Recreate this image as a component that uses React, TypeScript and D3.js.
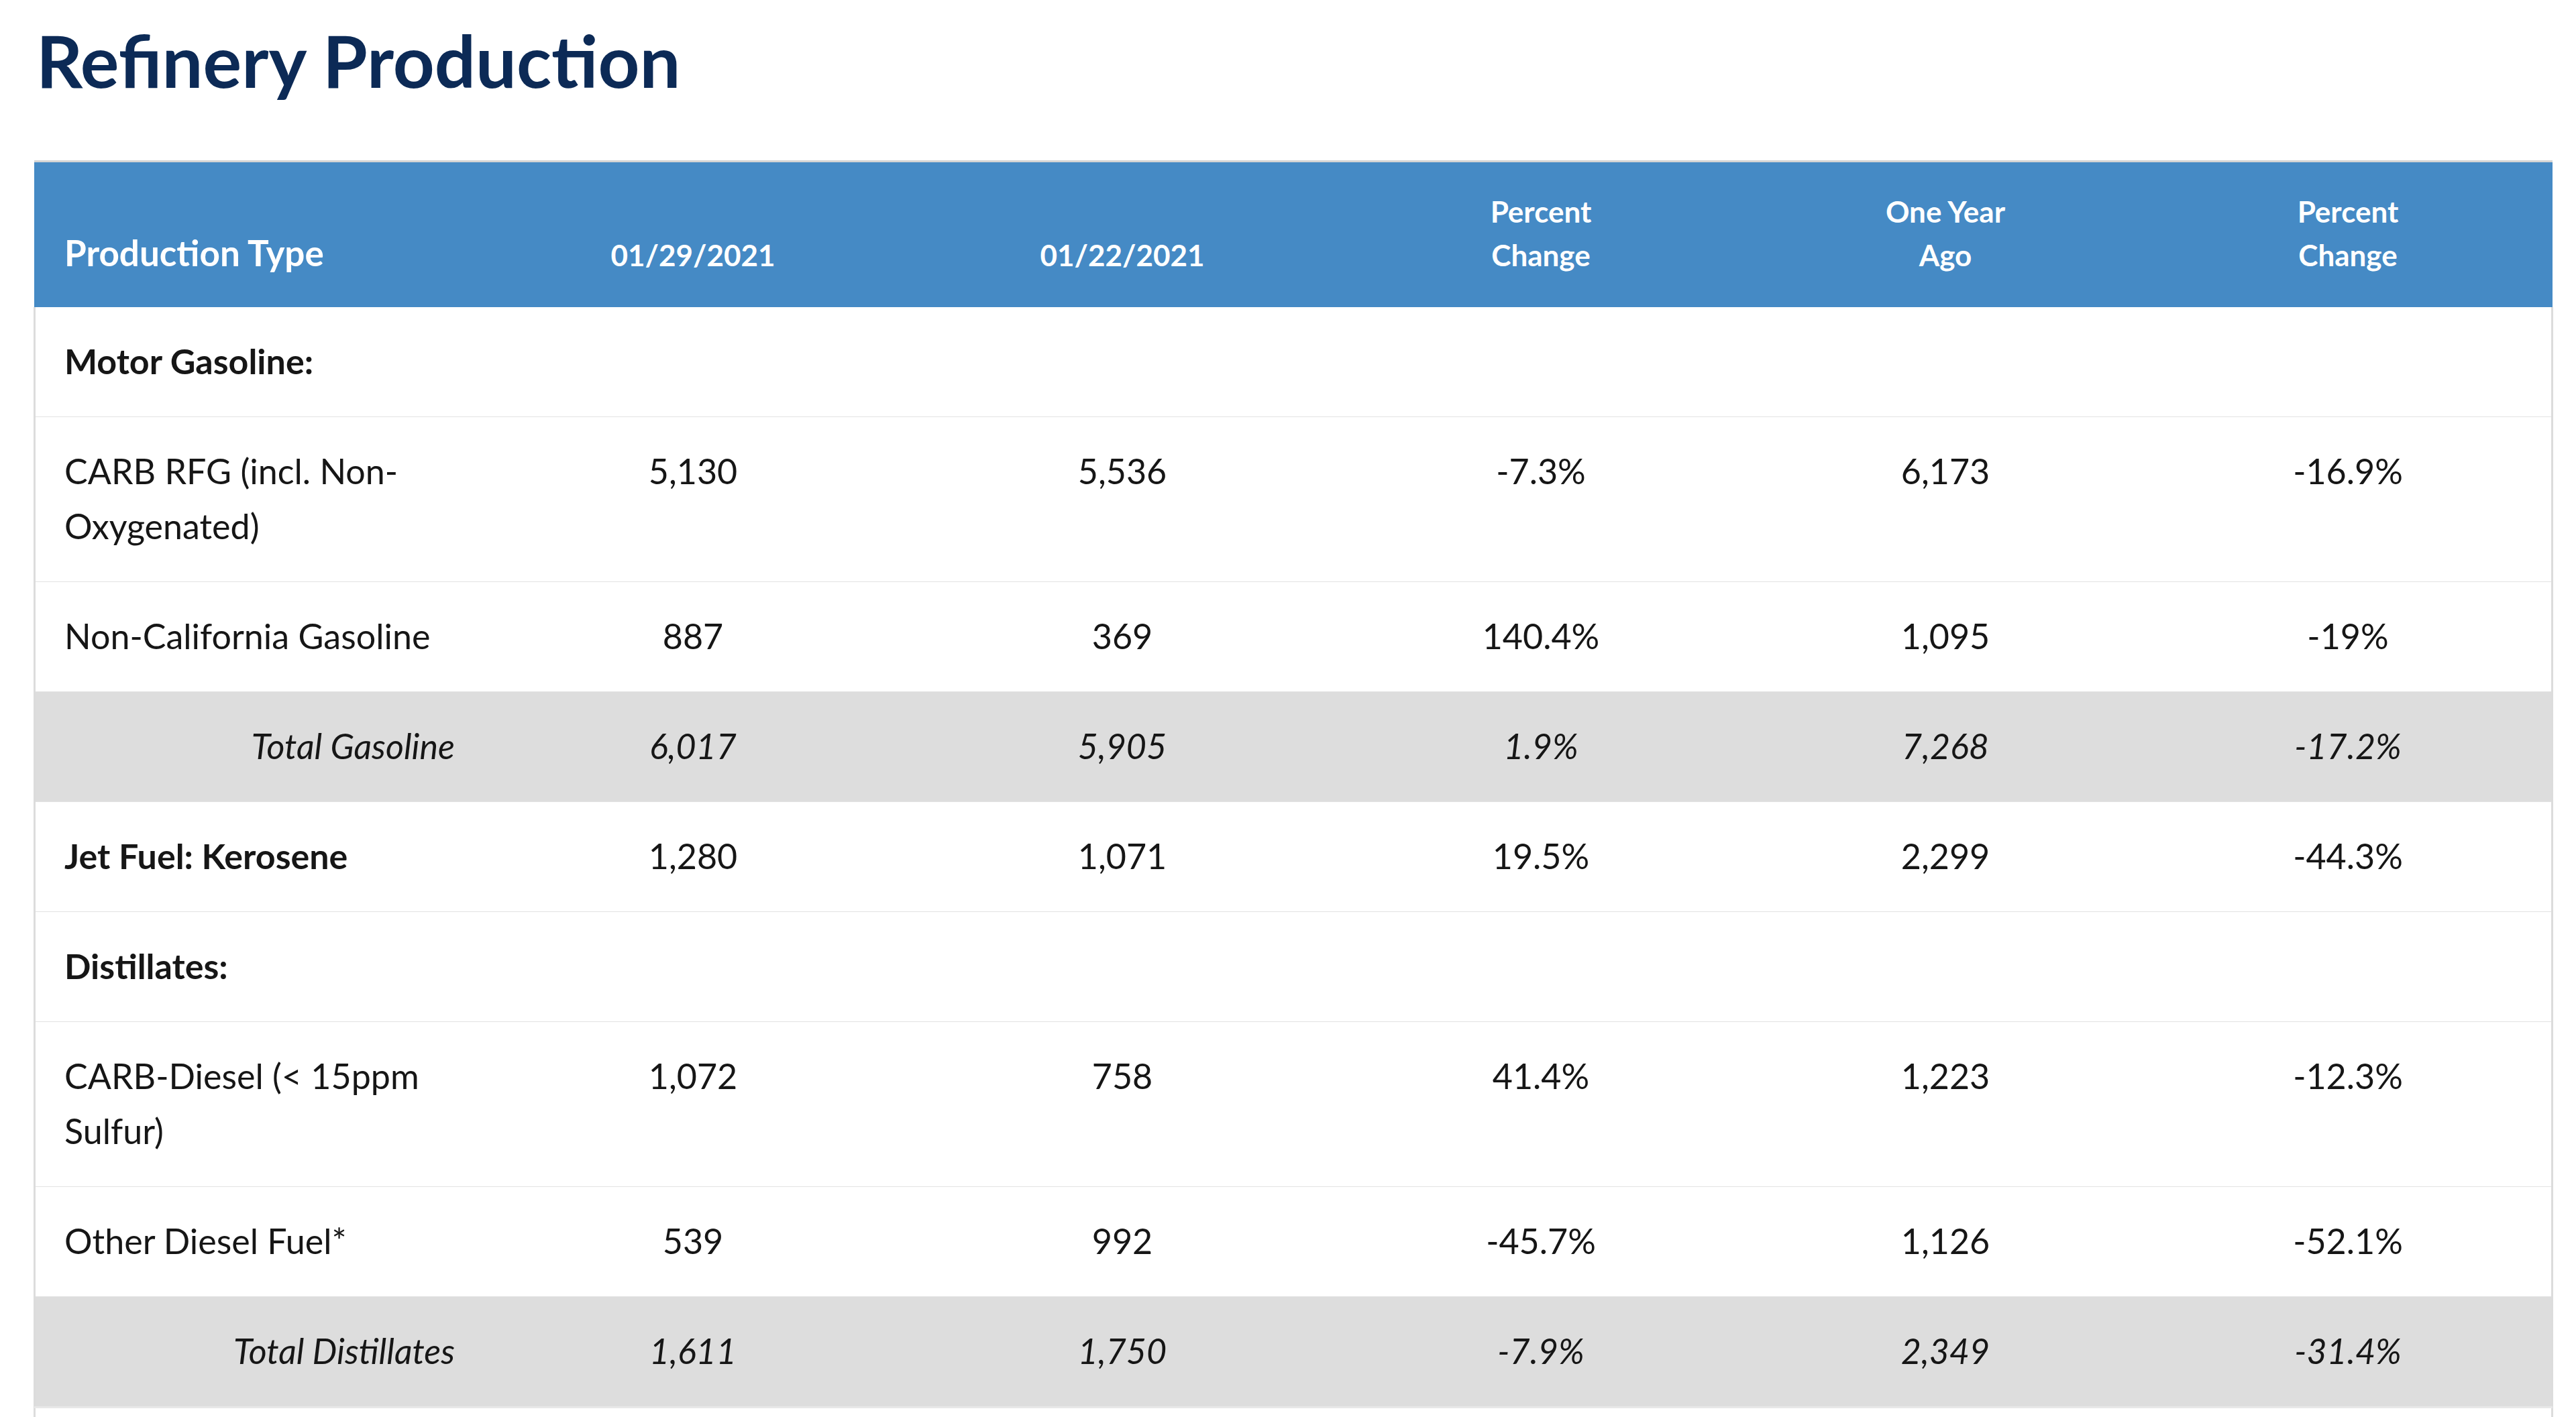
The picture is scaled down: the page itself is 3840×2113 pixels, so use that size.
import React from "react";
import * as d3 from "d3";

const title = "Refinery Production";
const headerLines = [["Production Type"], ["01/29/2021"], ["01/22/2021"], ["Percent", "Change"], ["One Year", "Ago"], ["Percent", "Change"]];
const columnKeys = ["label", "current", "previous", "pctWeek", "yearAgo", "pctYear"];

const rowLabels = [
  ["Motor Gasoline:"],
  ["CARB RFG (incl. Non-", "Oxygenated)"],
  ["Non-California Gasoline"],
  ["Total Gasoline"],
  ["Jet Fuel: Kerosene"],
  ["Distillates:"],
  ["CARB-Diesel (< 15ppm", "Sulfur)"],
  ["Other Diesel Fuel*"],
  ["Total Distillates"],
];
const rowKinds = ["section", "item", "item", "total", "boldItem", "section", "item", "item", "total"];
const current = [null, 5130, 887, 6017, 1280, null, 1072, 539, 1611];
const previous = [null, 5536, 369, 5905, 1071, null, 758, 992, 1750];
const pctWeek = [null, "-7.3%", "140.4%", "1.9%", "19.5%", null, "41.4%", "-45.7%", "-7.9%"];
const yearAgo = [null, 6173, 1095, 7268, 2299, null, 1223, 1126, 2349];
const pctYear = [null, "-16.9%", "-19%", "-17.2%", "-44.3%", null, "-12.3%", "-52.1%", "-31.4%"];

const W = 3840;
const H = 2113;
const FONT = "Lato, 'Open Sans', sans-serif";

export default function App() {
  const tableLeft = 51;
  const tableRight = 3805;
  const headerTop = 242;
  const headerBottom = 458;
  const lineH = 82;
  const fmt = d3.format(",");

  const xCol = d3.scaleOrdinal<string, number>().domain(columnKeys).range([96, 1033, 1673, 2297, 2900, 3500]);

  const heights = rowLabels.map((l) => lineH * (l.length + 1));
  const tops: number[] = [];
  let acc = headerBottom;
  heights.forEach((h) => {
    tops.push(acc);
    acc += h;
  });
  const tableBottomRows = acc;

  const cellValues = (i: number) => [
    current[i] == null ? "" : fmt(current[i] as number),
    previous[i] == null ? "" : fmt(previous[i] as number),
    pctWeek[i] ?? "",
    yearAgo[i] == null ? "" : fmt(yearAgo[i] as number),
    pctYear[i] ?? "",
  ];

  return (
    <svg width={W} height={H} style={{ position: "absolute", left: 0, top: 0, background: "#fff" }} fontFamily={FONT}>
      <rect x={0} y={0} width={W} height={H} fill="#ffffff" />
      <text x={54} y={131} fontSize={108} fontWeight={700} fill="#0c2a56">{title}</text>

      <rect x={tableLeft} y={headerTop - 3} width={tableRight - tableLeft} height={3} fill="#d4d4d4" />
      <rect x={tableLeft} y={headerTop} width={tableRight - tableLeft} height={headerBottom - headerTop} fill="#458ac5" />
      {headerLines.map((lines, ci) => {
        const key = columnKeys[ci];
        const isFirst = ci === 0;
        const fs = isFirst ? 53 : 44;
        return lines.map((t, li) => (
          <text
            key={key + li}
            x={xCol(key)}
            y={397 - (lines.length - 1 - li) * 65}
            fontSize={fs}
            fontWeight={700}
            fill="#ffffff"
            textAnchor={isFirst ? "start" : "middle"}
          >
            {t}
          </text>
        ));
      })}

      {rowLabels.map((lines, i) => {
        const kind = rowKinds[i];
        const top = tops[i];
        const h = heights[i];
        const isTotal = kind === "total";
        const bold = kind === "section" || kind === "boldItem";
        const baseline = top + 100;
        return (
          <g key={i}>
            <rect x={tableLeft} y={top} width={tableRight - tableLeft} height={h} fill={isTotal ? "#dddddd" : "#ffffff"} />
            <rect x={tableLeft} y={top + h - 1} width={tableRight - tableLeft} height={3} fill="#e2e2e2" />
            {lines.map((t, li) => (
              <text
                key={li}
                x={isTotal ? 678 : xCol("label")}
                y={baseline + li * lineH}
                fontSize={52}
                fontWeight={bold ? 700 : 400}
                fontStyle={isTotal ? "italic" : "normal"}
                fill="#161616"
                textAnchor={isTotal ? "end" : "start"}
              >
                {t}
              </text>
            ))}
            {cellValues(i).map((v, ci) => (
              <text
                key={"v" + ci}
                x={xCol(columnKeys[ci + 1])}
                y={baseline}
                fontSize={52}
                fontStyle={isTotal ? "italic" : "normal"}
                fill="#161616"
                textAnchor="middle"
              >
                {v}
              </text>
            ))}
          </g>
        );
      })}
      <rect x={tableLeft - 1} y={headerBottom} width={3} height={H - headerBottom} fill="#dcdcdc" />
      <rect x={tableRight - 2} y={headerBottom} width={3} height={H - headerBottom} fill="#dcdcdc" />
      <rect x={tableLeft} y={tableBottomRows - 1} width={tableRight - tableLeft} height={3} fill="#e8e8e8" />
    </svg>
  );
}
